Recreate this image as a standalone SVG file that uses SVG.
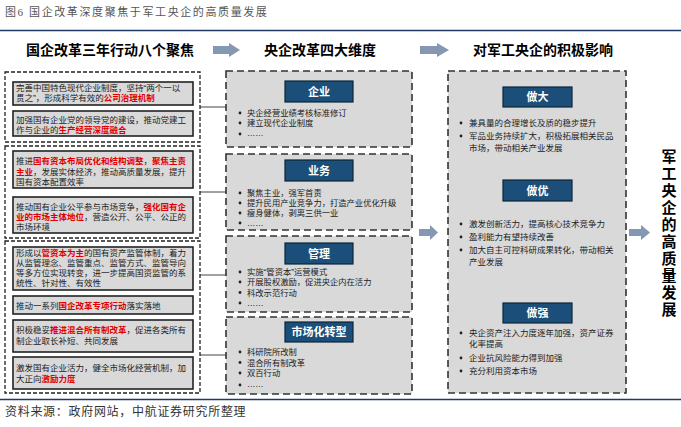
<svg xmlns="http://www.w3.org/2000/svg" width="681" height="427" viewBox="0 0 681 427">
<style>
text{font-family:"Liberation Sans","Noto Sans CJK SC",sans-serif;fill:#222}
.cap{font-family:"Liberation Serif","Noto Sans CJK SC",serif;fill:#555;font-size:11px;letter-spacing:1.6px}
.foot{font-family:"Liberation Serif","Noto Sans CJK SC",serif;fill:#333;font-size:12px;letter-spacing:0.7px}
.hd{font-size:14px;font-weight:bold;fill:#000;text-anchor:middle}
.grp{fill:#fff;stroke:#222;stroke-width:1.3;stroke-dasharray:4 2}
.ib{fill:#d9d9d9;stroke:#222;stroke-width:1.6}
.t{font-size:8.5px}
.r{fill:#e00000;font-weight:bold}
.db{fill:#d9d9d9;stroke:#333;stroke-width:1.6;stroke-dasharray:7 4}
.tb{fill:#1b4f79;stroke:#0d2638;stroke-width:1.2}
.tt{font-size:11px;font-weight:bold;fill:#fff;text-anchor:middle}
.b{font-size:8.3px}
.dot{fill:#222}
.con{stroke:#444;stroke-width:1;fill:none}
.arr{fill:#8598b2}
.vt{font-size:15px;font-weight:bold;fill:#000;text-anchor:middle;writing-mode:vertical-rl;letter-spacing:2px}
</style>

<text class="cap" x="5" y="16">图6  国企改革深度聚焦于军工央企的高质量发展</text>
<line x1="0" y1="30.5" x2="681" y2="30.5" stroke="#1f3864" stroke-width="1.3"/>
<line x1="0" y1="399.5" x2="681" y2="399.5" stroke="#1f3864" stroke-width="1.3"/>
<text class="foot" x="5" y="416">资料来源：政府网站，中航证券研究所整理</text>

<g id="headers">
<text class="hd" x="110" y="55">国企改革三年行动八个聚焦</text>
<text class="hd" x="320" y="55">央企改革四大维度</text>
<text class="hd" x="543" y="55">对军工央企的积极影响</text>
<path class="arr" d="M213,46 H229 V43 L240,50 L229,57 V54 H213 Z"/>
<path class="arr" d="M420,46 H437 V43 L449,50 L437,57 V54 H420 Z"/>
</g>

<g id="connectors">
<line class="con" x1="200" y1="107" x2="226" y2="107"/>
<line class="con" x1="200" y1="192" x2="226" y2="192"/>
<line class="con" x1="200" y1="275" x2="226" y2="275"/>
<line class="con" x1="200" y1="355" x2="226" y2="355"/>
<path class="arr" d="M419,229 H430 V225 L438,232.5 L430,240 V236 H419 Z"/>
<path class="arr" d="M629,229 H641 V225 L650,232.5 L641,240 V236 H629 Z"/>
</g>

<g id="group1">
<rect class="grp" x="5" y="72" width="195" height="70"/>
<rect class="ib" x="13" y="82" width="180" height="23"/>
<text class="t"><tspan x="16" y="90.5">完善中国特色现代企业制度，坚持“两个一以</tspan><tspan x="16" y="101">贯之”，形成科学有效的<tspan class="r">公司治理机制</tspan></tspan></text>
<rect class="ib" x="13" y="111" width="180" height="25"/>
<text class="t"><tspan x="16" y="123">加强国有企业党的领导党的建设，推动党建工</tspan><tspan x="16" y="133">作与企业的<tspan class="r">生产经营深度融合</tspan></tspan></text>
</g>

<g id="group2">
<rect class="grp" x="5" y="146" width="195" height="92"/>
<rect class="ib" x="13" y="151" width="180" height="37"/>
<text class="t"><tspan x="16" y="164">推进<tspan class="r">国有资本布局优化和结构调整</tspan>，<tspan class="r">聚焦主责</tspan></tspan><tspan x="16" y="174.5"><tspan class="r">主业</tspan>，发展实体经济，推动高质量发展，提升</tspan><tspan x="16" y="184.5">国有资本配置效率</tspan></text>
<rect class="ib" x="13" y="197" width="180" height="36"/>
<text class="t"><tspan x="16" y="209.5">推动国有企业公平参与市场竞争，<tspan class="r">强化国有企</tspan></tspan><tspan x="16" y="219.5"><tspan class="r">业的市场主体地位</tspan>，营造公开、公平、公正的</tspan><tspan x="16" y="229.5">市场环境</tspan></text>
</g>

<g id="group3">
<rect class="grp" x="5" y="241" width="195" height="152"/>
<rect class="ib" x="13" y="247" width="180" height="43"/>
<text class="t"><tspan x="16" y="256">形成以<tspan class="r">管资本为主</tspan>的国有资产监管体制，着力</tspan><tspan x="16" y="266">从监管理念、监管重点、监管方式、监管导向</tspan><tspan x="16" y="276">等多方位实现转变，进一步提高国资监管的系</tspan><tspan x="16" y="286">统性、针对性、有效性</tspan></text>
<rect class="ib" x="13" y="296" width="180" height="18"/>
<text class="t" x="16" y="308.5">推动一系列<tspan class="r">国企改革专项行动</tspan>落实落地</text>
<rect class="ib" x="13" y="320" width="180" height="32"/>
<text class="t"><tspan x="16" y="333">积极稳妥<tspan class="r">推进混合所有制改革</tspan>，促进各类所有</tspan><tspan x="16" y="343.5">制企业取长补短、共同发展</tspan></text>
<rect class="ib" x="13" y="357" width="180" height="32"/>
<text class="t"><tspan x="16" y="371">激发国有企业活力，健全市场化经营机制，加</tspan><tspan x="16" y="381.5">大正向<tspan class="r">激励力度</tspan></tspan></text>
</g>

<g id="qiye">
<rect class="db" x="226" y="71" width="186" height="76"/>
<rect class="tb" x="285" y="81" width="68" height="21"/>
<text class="tt" x="319" y="95.5">企业</text>
<circle class="dot" cx="240" cy="113" r="1.4"/><circle class="dot" cx="240" cy="123" r="1.4"/><circle class="dot" cx="240" cy="134" r="1.4"/>
<text class="b"><tspan x="247" y="116">央企经营业绩考核标准修订</tspan><tspan x="247" y="126">建立现代企业制度</tspan><tspan x="247" y="136">……</tspan></text>
</g>

<g id="yewu">
<rect class="db" x="226" y="154" width="186" height="76"/>
<rect class="tb" x="285" y="160" width="68" height="21"/>
<text class="tt" x="319" y="174.5">业务</text>
<circle class="dot" cx="240" cy="193" r="1.4"/><circle class="dot" cx="240" cy="203" r="1.4"/><circle class="dot" cx="240" cy="213" r="1.4"/><circle class="dot" cx="240" cy="223" r="1.4"/>
<text class="b"><tspan x="247" y="196">聚焦主业，强军首责</tspan><tspan x="247" y="206">提升民用产业竞争力，打造产业优化升级</tspan><tspan x="247" y="216">瘦身健体，剥离三供一业</tspan><tspan x="247" y="225.5">……</tspan></text>
</g>

<g id="guanli">
<rect class="db" x="226" y="236" width="186" height="76"/>
<rect class="tb" x="285" y="243" width="68" height="21"/>
<text class="tt" x="319" y="257.5">管理</text>
<circle class="dot" cx="240" cy="272" r="1.4"/><circle class="dot" cx="240" cy="282" r="1.4"/><circle class="dot" cx="240" cy="292.5" r="1.4"/><circle class="dot" cx="240" cy="303" r="1.4"/>
<text class="b"><tspan x="247" y="275">实施“管资本”运营模式</tspan><tspan x="247" y="285">开展股权激励，促进央企内在活力</tspan><tspan x="247" y="295.5">科改示范行动</tspan><tspan x="247" y="305.5">……</tspan></text>
</g>

<g id="shichang">
<rect class="db" x="226" y="317" width="186" height="77"/>
<rect class="tb" x="285" y="322" width="68" height="20"/>
<text class="tt" x="319" y="336">市场化转型</text>
<circle class="dot" cx="240" cy="352" r="1.4"/><circle class="dot" cx="240" cy="362.5" r="1.4"/><circle class="dot" cx="240" cy="373" r="1.4"/><circle class="dot" cx="240" cy="385" r="1.4"/>
<text class="b"><tspan x="247" y="355">科研院所改制</tspan><tspan x="247" y="365.5">混合所有制改革</tspan><tspan x="247" y="376">双百行动</tspan><tspan x="247" y="387">……</tspan></text>
</g>

<g id="impact">
<rect class="db" x="448" y="71" width="178" height="322"/>
<rect class="tb" x="503" y="87" width="69" height="20"/>
<text class="tt" x="537.5" y="101">做大</text>
<circle class="dot" cx="461" cy="123" r="1.4"/><circle class="dot" cx="461" cy="136" r="1.4"/>
<text class="t"><tspan x="469" y="126">兼具量的合理增长及质的稳步提升</tspan><tspan x="469" y="139">军品业务持续扩大，积极拓展相关民品</tspan><tspan x="469" y="150.5">市场，带动相关产业发展</tspan></text>

<rect class="tb" x="503" y="180" width="69" height="21"/>
<text class="tt" x="537.5" y="194.5">做优</text>
<circle class="dot" cx="461" cy="224" r="1.4"/><circle class="dot" cx="461" cy="237" r="1.4"/><circle class="dot" cx="461" cy="250" r="1.4"/>
<text class="t"><tspan x="469" y="227">激发创新活力，提高核心技术竞争力</tspan><tspan x="469" y="240">盈利能力有望持续改善</tspan><tspan x="469" y="253">加大自主可控科研成果转化，带动相关</tspan><tspan x="469" y="265">产业发展</tspan></text>

<rect class="tb" x="503" y="303" width="69" height="20"/>
<text class="tt" x="537.5" y="317">做强</text>
<circle class="dot" cx="461" cy="333" r="1.4"/><circle class="dot" cx="461" cy="358" r="1.4"/><circle class="dot" cx="461" cy="371" r="1.4"/>
<text class="t"><tspan x="469" y="336">央企资产注入力度逐年加强，资产证券</tspan><tspan x="469" y="347">化率提高</tspan><tspan x="469" y="361">企业抗风险能力得到加强</tspan><tspan x="469" y="374">充分利用资本市场</tspan></text>
</g>

<g id="result">
<text class="vt" x="668" y="234">军工央企的高质量发展</text>
</g>
</svg>
